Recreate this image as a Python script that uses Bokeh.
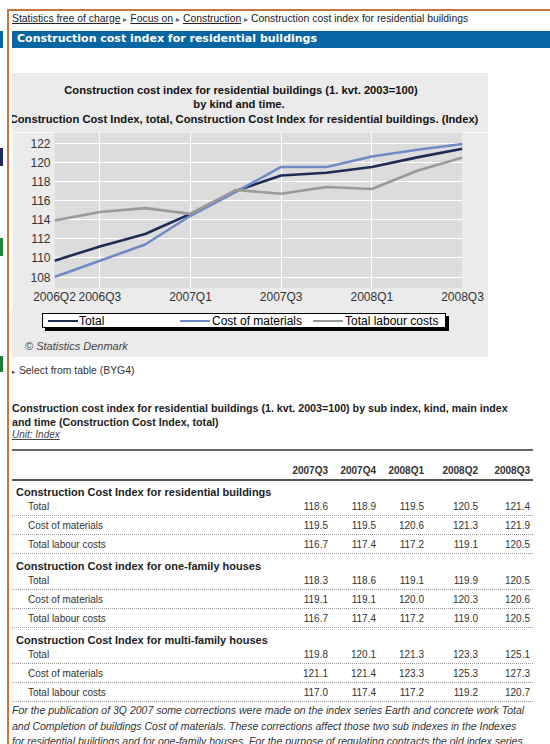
from bokeh.plotting import figure
from bokeh.models import Div, FixedTicker, ColumnDataSource
from bokeh.layouts import column, row
from bokeh.embed import file_html
from bokeh.resources import INLINE

# ---------------- data ----------------
quarters = ["2006Q2", "2006Q3", "2006Q4", "2007Q1", "2007Q2",
            "2007Q3", "2007Q4", "2008Q1", "2008Q2", "2008Q3"]
total = [109.7, 111.2, 112.5, 114.6, 117.0, 118.6, 118.9, 119.5, 120.5, 121.4]
materials = [108.0, 109.7, 111.4, 114.4, 116.9, 119.5, 119.5, 120.6, 121.3, 121.9]
labour = [113.9, 114.8, 115.2, 114.6, 117.1, 116.7, 117.4, 117.2, 119.1, 120.5]
series_names = ["Total", "Cost of materials", "Total labour costs"]
series_colors = ["#1e2b54", "#6f8ac6", "#9a9a9a"]
x_tick_quarters = ["2006Q2", "2006Q3", "2007Q1", "2007Q3", "2008Q1", "2008Q3"]
y_ticks = [108, 110, 112, 114, 116, 118, 120, 122]

chart_title = ["Construction cost index for residential buildings (1. kvt. 2003=100)",
               "by kind and time.",
               "Construction Cost Index, total, Construction Cost Index for residential buildings. (Index)"]
copyright_text = "&copy; Statistics Denmark"

crumbs = ["Statistics free of charge", "Focus on", "Construction"]
page_title = "Construction cost index for residential buildings"

table_title = ["Construction cost index for residential buildings (1. kvt. 2003=100) by sub index, kind, main index",
               "and time (Construction Cost Index, total)"]
table_unit = "Unit: Index"
table_periods = ["2007Q3", "2007Q4", "2008Q1", "2008Q2", "2008Q3"]
sections = ["Construction Cost Index for residential buildings",
            "Construction Cost index for one-family houses",
            "Construction Cost Index for multi-family houses"]
row_labels = ["Total", "Cost of materials", "Total labour costs"]
res_total = [118.6, 118.9, 119.5, 120.5, 121.4]
res_materials = [119.5, 119.5, 120.6, 121.3, 121.9]
res_labour = [116.7, 117.4, 117.2, 119.1, 120.5]
one_total = [118.3, 118.6, 119.1, 119.9, 120.5]
one_materials = [119.1, 119.1, 120.0, 120.3, 120.6]
one_labour = [116.7, 117.4, 117.2, 119.0, 120.5]
multi_total = [119.8, 120.1, 121.3, 123.3, 125.1]
multi_materials = [121.1, 121.4, 123.3, 125.3, 127.3]
multi_labour = [117.0, 117.4, 117.2, 119.2, 120.7]
footnote = ["For the publication of 3Q 2007 some corrections were made on the index series Earth and concrete work Total",
            "and Completion of buildings Cost of materials. These corrections affect those two sub indexes in the Indexes",
            "for residential buildings and for one-family houses. For the purpose of regulating contracts the old index series"]

# ---------------- styles ----------------
W = 550
ORANGE = "#c8743c"
FONT = "'Liberation Sans', Arial, sans-serif"
VFONT = "'DejaVu Sans', Verdana, sans-serif"
TXT = "#333333"
PANEL = "#ebebeb"
PANEL_X0, PANEL_W = 12, 476


def txt(x, cy, s, size=10.4, weight="normal", style="normal", color=TXT, align="left",
        font=FONT, extra="", cw=W):
    h = 14
    top = cy - h / 2
    if align == "left":
        pos = f"left:{x}px;"
    elif align == "right":
        pos = f"right:{cw - x}px;text-align:right;"
    else:
        pos = f"left:{x - 600}px;width:1200px;text-align:center;"
    return (f'<div style="position:absolute;{pos}top:{top}px;height:{h}px;line-height:{h}px;'
            f'font-family:{font};font-size:{size}px;font-weight:{weight};font-style:{style};'
            f'color:{color};white-space:nowrap;{extra}">{s}</div>')


def box(x0, y0, w, h, css):
    return f'<div style="position:absolute;left:{x0}px;top:{y0}px;width:{w}px;height:{h}px;box-sizing:border-box;{css}"></div>'


def container(w, h, inner, bg="white"):
    return (f'<div style="position:relative;width:{w}px;height:{h}px;overflow:hidden;background:{bg};">'
            + inner + '</div>')


def mkdiv(w, h, inner, bg="white"):
    return Div(text=container(w, h, inner, bg), width=w, height=h, margin=(0, 0, 0, 0))


def strip(h, blocks):
    inner = box(6.5, 0, 2, h, f"background:{ORANGE}")
    for (y0, bh, c) in blocks:
        inner += box(0, y0, 3, bh, f"background:{c}")
    return mkdiv(PANEL_X0, h, inner)


# ---------------- header (page y 0..73) ----------------
sep = ' <span style="color:#666;font-size:8px;">&#9656;</span> '
bc = sep.join(f'<span style="text-decoration:underline">{c}</span>' for c in crumbs) + sep + page_title
head_h = 73
head_inner = (box(7, 9, W - 7, 2, f"background:{ORANGE}")
              + box(6.5, 9, 2, head_h, f"background:{ORANGE}")
              + box(0, 30.5, 3, 17, "background:#0867a3")
              + txt(12, 19, bc, size=10.4, color="#222")
              + box(12, 30.5, W - 12, 17, "background:#0867a3")
              + txt(17, 39, page_title, size=11, weight="bold", color="white", font=VFONT))
header = mkdiv(W, head_h, head_inner)

# ---------------- chart title block (page y 73..132) ----------------
title_h = 59
t_inner = ""
for line, cy, cx in zip(chart_title, [17, 31, 46], [229, 227, 232]):
    t_inner += txt(cx, cy, line, size=11.2, weight="bold", color="#111", align="center")
title_row = row(strip(title_h, []), mkdiv(PANEL_W, title_h, t_inner, PANEL), margin=(0, 0, 0, 0))

# ---------------- chart (page y 132..308) ----------------
x_idx = list(range(len(quarters)))
src = ColumnDataSource(data=dict(x=x_idx, total=total, materials=materials, labour=labour))
fig_h = 176
p = figure(width=PANEL_W, height=fig_h, x_range=(x_idx[0], x_idx[-1]), y_range=(106.8, 123.1),
           output_backend="svg", toolbar_location=None,
           min_border_left=42, min_border_right=26, min_border_top=0, min_border_bottom=fig_h - 156,
           background_fill_color="#dcdcdc", border_fill_color=PANEL,
           outline_line_color=None, margin=(0, 0, 0, 0))

p.xaxis.ticker = FixedTicker(ticks=[quarters.index(q) for q in x_tick_quarters])
p.xaxis.major_label_overrides = {quarters.index(q): q for q in x_tick_quarters}
p.yaxis.ticker = FixedTicker(ticks=y_ticks)
for ax in (p.xaxis[0], p.yaxis[0]):
    ax.axis_line_color = None
    ax.major_tick_line_color = None
    ax.minor_tick_line_color = None
    ax.major_tick_in = 0
    ax.major_tick_out = 0
    ax.major_label_text_font = "Liberation Sans"
    ax.major_label_text_font_size = "12px"
    ax.major_label_text_color = "#333333"
p.yaxis.major_label_standoff = 4
p.xaxis.major_label_standoff = 1
p.xgrid.grid_line_color = "white"
p.ygrid.grid_line_color = "white"
p.xgrid.grid_line_width = 1.2
p.ygrid.grid_line_width = 1.2

for col, c in zip(["total", "materials", "labour"], series_colors):
    p.line("x", col, source=src, line_color=c, line_width=2.6)

chart_row = row(strip(fig_h, [(16, 18, "#1e2b54"), (106, 18, "#1f8a3c")]), p, margin=(0, 0, 0, 0))

# ---------------- legend + copyright block (page y 308..357) ----------------
leg_h = 49
l_inner = box(30, 5, 404, 15, "background:white;border:1px solid black;box-shadow:3px 3px 0 #000;")
for name, c, gx, tx in zip(series_names, series_colors, [36, 168, 301], [67, 200, 333]):
    l_inner += box(gx, 11.5, 30, 2.5, f"background:{c}")
    l_inner += txt(tx, 12.5, name, size=12, color="black")
l_inner += txt(13, 38, copyright_text, size=11, style="italic", color="#444")
legend_row = row(strip(leg_h, [(48, 1, "#1f7a3c")]), mkdiv(PANEL_W, leg_h, l_inner, PANEL), margin=(0, 0, 0, 0))

# ---------------- table section (page y 357..744) ----------------
OY = 357
bot_h = 744 - OY


def Y(page_y):
    return page_y - OY


parts = [box(6.5, 0, 2, bot_h, f"background:{ORANGE}"),
         box(0, 0, 3, 15, "background:#1f7a3c")]
parts.append(txt(12, Y(371), '<span style="font-size:7px;color:#555">&#9656;</span> Select from table (BYG4)', size=10.4))
for line, py in zip(table_title, [408, 421.5]):
    parts.append(txt(12, Y(py), line, size=10.7, weight="bold", color="#222"))
parts.append(txt(12, Y(435), table_unit, size=10, style="italic", color="#444",
                 extra="text-decoration:underline;"))
parts.append(box(12, Y(449), 521, 1.5, "background:#666"))

col_right = [328, 376, 424, 478, 530]
for per, rx in zip(table_periods, col_right):
    parts.append(txt(rx, Y(471), per, size=10, weight="bold", color="#333", align="right"))
parts.append(box(12, Y(479), 521, 2, "background:#555"))

section_rows = [[res_total, res_materials, res_labour],
                [one_total, one_materials, one_labour],
                [multi_total, multi_materials, multi_labour]]
sec_y = [492, 566, 640]
for sname, sy, rows in zip(sections, sec_y, section_rows):
    parts.append(txt(16, Y(sy), sname, size=11, weight="bold", color="#222"))
    for k, (lab, vals) in enumerate(zip(row_labels, rows)):
        ry = sy + 14.5 + 19 * k
        parts.append(txt(28, Y(ry), lab, size=10, color="#333"))
        for v, rx in zip(vals, col_right):
            parts.append(txt(rx, Y(ry), f"{v:.1f}", size=10, color="#333", align="right"))
        parts.append(box(12, Y(ry + 8.5), 521, 1, "border-top:1px dotted #9a9a9a"))

for line, py in zip(footnote, [710, 725.5, 741]):
    parts.append(txt(12, Y(py), line, size=10.5, style="italic", color="#333"))

bottom = mkdiv(W, bot_h, "".join(parts))

layout = column(header, title_row, chart_row, legend_row, bottom, margin=(0, 0, 0, 0))

with open("out.html", "w", encoding="utf-8") as f:
    f.write(file_html(layout, INLINE))
